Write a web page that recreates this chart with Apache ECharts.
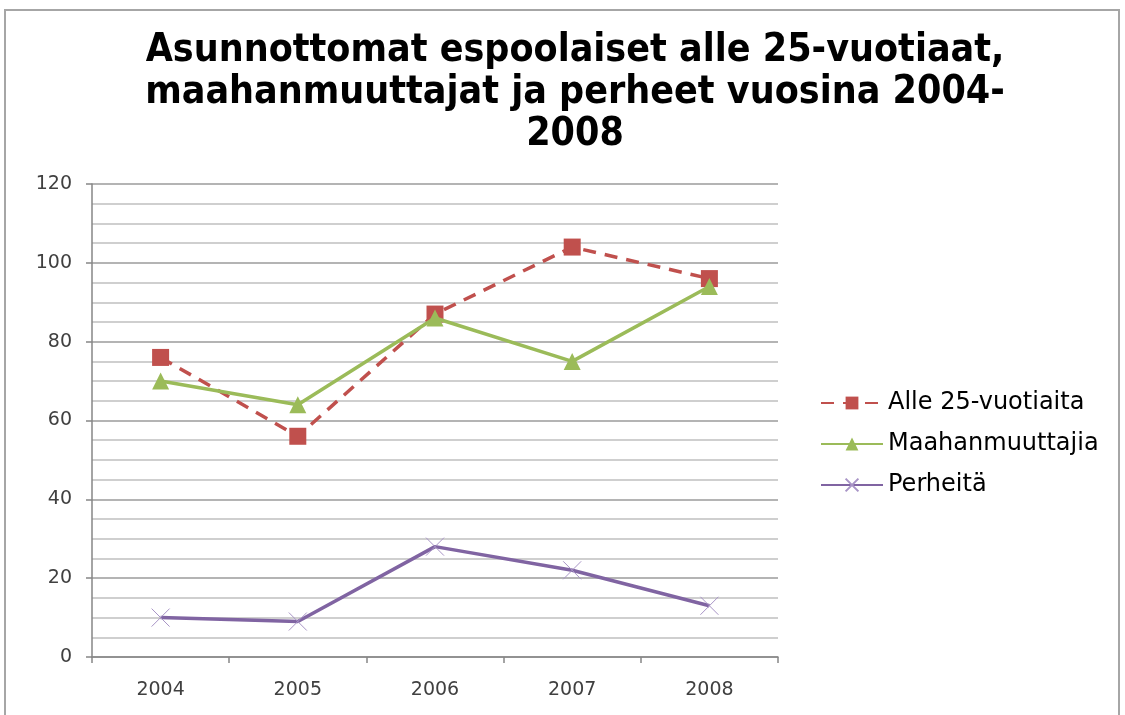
<!DOCTYPE html>
<html>
<head>
<meta charset="utf-8">
<script src="https://cdn.jsdelivr.net/npm/echarts@6/dist/echarts.min.js"></script>
<style>
  html, body { margin: 0; padding: 0; background: #fff; }
  #chart { width: 1125px; height: 715px; }
</style>
</head>
<body>
<div id="chart"></div>
<script>
// vuodet ja sarjat
const years = ["2004", "2005", "2006", "2007", "2008"];
const alle25 = [76, 56, 87, 104, 96];
const maahanmuuttajia = [70, 64, 86, 75, 94];
const perheita = [10, 9, 28, 22, 13];

const chart = echarts.init(document.getElementById("chart"));

const axisText = { color: "#404040", fontSize: 19, fontFamily: "DejaVu Sans" };

const option = {
  animation: false,
  backgroundColor: "#fff",
  title: {
    text: "Asunnottomat espoolaiset alle 25-vuotiaat,\nmaahanmuuttajat ja perheet vuosina 2004-\n2008",
    left: 570,
    top: 25,
    textAlign: "center",
    textStyle: {
      fontFamily: "DejaVu Sans Condensed",
      fontWeight: "bold",
      fontSize: 39,
      lineHeight: 42,
      color: "#000",
    },
  },
  graphic: [
    {
      type: "rect",
      shape: { x: 5, y: 10, width: 1114, height: 720 },
      style: { fill: "none", stroke: "#a6a6a6", lineWidth: 2 },
      silent: true,
    },
  ],
  legend: {
    orient: "vertical",
    left: 815,
    top: 386,
    itemWidth: 62,
    itemHeight: 16,
    itemGap: 17,
    textStyle: { color: "#000", fontSize: 24, fontFamily: "DejaVu Sans" },
    data: ["Alle 25-vuotiaita", "Maahanmuuttajia", "Perheitä"],
  },
  grid: { left: 92, right: 347, top: 184, bottom: 58 },
  xAxis: {
    type: "category",
    data: years,
    boundaryGap: true,
    axisLine: { lineStyle: { color: "#868686", width: 1.5 } },
    axisTick: { show: true, length: 6, lineStyle: { color: "#868686", width: 1.5 } },
    axisLabel: Object.assign({ margin: 24 }, axisText),
  },
  yAxis: {
    type: "value",
    min: 0,
    max: 120,
    interval: 20,
    axisLine: { show: true, lineStyle: { color: "#868686", width: 1.5 } },
    axisTick: { show: true, length: 6, lineStyle: { color: "#868686", width: 1.5 } },
    axisLabel: Object.assign({ margin: 20 }, axisText),
    splitLine: { lineStyle: { color: "#b4b4b4", width: 2 } },
    minorTick: { show: false, splitNumber: 4 },
    minorSplitLine: { show: true, lineStyle: { color: "#cfcfcf", width: 2 } },
  },
  series: [
    {
      name: "Alle 25-vuotiaita",
      type: "line",
      data: alle25,
      symbol: "rect",
      symbolSize: 17,
      lineStyle: { color: "#c0504d", width: 3.5, type: [13, 9] },
      itemStyle: { color: "#c0504d" },
      z: 3,
    },
    {
      name: "Maahanmuuttajia",
      type: "line",
      data: maahanmuuttajia,
      symbol: "triangle",
      symbolSize: 17,
      lineStyle: { color: "#9bbb59", width: 3.5 },
      itemStyle: { color: "#9bbb59" },
      z: 4,
    },
    {
      name: "Perheitä",
      type: "line",
      data: perheita,
      symbol: "path://M0,0L10,10M10,0L0,10",
      symbolSize: 18,
      lineStyle: { color: "#8064a2", width: 3.5 },
      itemStyle: { color: "#8064a2", borderColor: "#a894c6", borderWidth: 1 },
      z: 2,
    },
  ],
};

chart.setOption(option);
</script>
</body>
</html>
